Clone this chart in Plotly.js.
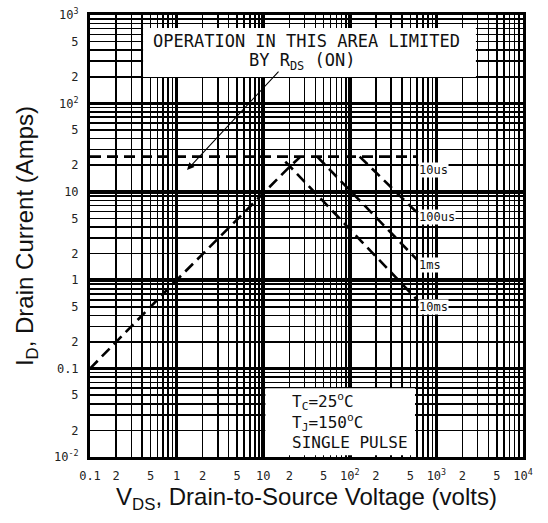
<!DOCTYPE html>
<html>
<head>
<meta charset="utf-8">
<script src="https://cdn.plot.ly/plotly-3.0.1.min.js"></script>
<style>html,body{margin:0;padding:0;background:#fff;}#chart{width:548px;height:523px;}</style>
</head>
<body>
<div id="chart"></div>
<script>
// ---- data (V in volts, I in amps) ----
const rdsV   = [0.1, 1, 20, 27];
const rdsI   = [0.1, 1, 19, 25];
const us10V  = [0.1, 600];
const us10I  = [25, 25];
const us100V = [130, 600];
const us100I = [25, 5.8];
const ms1V   = [42, 600];
const ms1I   = [25, 1.7];
const ms10V  = [18, 600];
const ms10I  = [22, 0.6];

const curveNames = ['10us', '100us', '1ms', '10ms'];

// ---- tick labels ----
const xLabelVals = [0.1,0.2,0.5,1,2,5,10,20,50,100,200,500,1000,2000,5000,10000];
const xLabelText = ['0.1','2','5','1','2','5','10','2','5','10<sup>2</sup>','2','5','10<sup>3</sup>','2','5','10<sup>4</sup>'];
const yLabelVals = [0.01,0.02,0.05,0.1,0.2,0.5,1,2,5,10,20,50,100,200,500,1000];
const yLabelText = ['10<sup>-2</sup>','2','5','0.1','2','5','1','2','5','10','2','5','10<sup>2</sup>','2','5','10<sup>3</sup>'];
const xDecades = [0.1,1,10,100,1000,10000];
const yDecades = [0.01,0.1,1,10,100,1000];
const minorDigits = [3,4,6,7,8,9];

// unlabeled grid values: digits 3,4,6..9 in each decade
function minorVals(decades){
  const out = [];
  for (let i = 0; i < decades.length - 1; i++) {
    minorDigits.forEach(d => out.push(+(d * decades[i]).toPrecision(3)));
  }
  return out;
}

const lineStyle = {color: '#000', width: 2.6, dash: '11px,6px'};
const mk = (x, y) => ({x: x, y: y, type: 'scatter', mode: 'lines', line: lineStyle,
                       hoverinfo: 'none', showlegend: false});

const traces = [
  mk(rdsV, rdsI), mk(us10V, us10I), mk(us100V, us100I), mk(ms1V, ms1I), mk(ms10V, ms10I),
  {x: [], y: [], xaxis: 'x2', yaxis: 'y2', type: 'scatter', mode: 'lines', showlegend: false}
];

const tickFont = {family: 'DejaVu Sans Mono', size: 12, color: '#222'};
const titleFont = {family: 'Liberation Sans, Arial, sans-serif', size: 24, color: '#111'};
const textFont = {family: 'DejaVu Sans Mono', size: 17, color: '#111'};
const boxFont = {family: 'DejaVu Sans Mono', size: 16, color: '#111'};
const labFont = {family: 'DejaVu Sans Mono', size: 12, color: '#111'};

const ends = [[us10V, us10I], [us100V, us100I], [ms1V, ms1I], [ms10V, ms10I]];
const labShift = [-13, -4, -5, -7];
const curveAnn = ends.map((e, i) => ({
  x: Math.log10(e[0][e[0].length - 1]), y: Math.log10(e[1][e[1].length - 1]),
  xref: 'x', yref: 'y', text: curveNames[i], showarrow: false,
  xanchor: 'left', yanchor: 'middle', xshift: 1, yshift: labShift[i],
  font: labFont, bgcolor: '#fff', borderpad: 0
}));

const minorGrid = vals => ({tickmode: 'array', tickvals: vals, showgrid: true,
                            gridcolor: '#000', gridwidth: 1.5, ticks: ''});

const layout = {
  width: 548, height: 523,
  margin: {l: 90, r: 25, t: 15, b: 66},
  paper_bgcolor: '#fff', plot_bgcolor: '#fff',
  showlegend: false,
  xaxis: {
    type: 'log', range: [-1, 4], tickmode: 'array', tickvals: xLabelVals,
    ticktext: xLabelText, tickangle: 0, minor: minorGrid(minorVals(xDecades)),
    showgrid: true, gridcolor: '#000', gridwidth: 1.5, ticks: '', ticklabelstandoff: 6,
    tickfont: tickFont, showline: true, mirror: true, linecolor: '#000', linewidth: 3,
    zeroline: false,
    title: {text: 'V<sub>DS</sub>, Drain-to-Source Voltage (volts)', font: titleFont, standoff: 6}
  },
  yaxis: {
    type: 'log', range: [-2, 3], tickmode: 'array', tickvals: yLabelVals,
    ticktext: yLabelText, minor: minorGrid(minorVals(yDecades)),
    showgrid: true, gridcolor: '#000', gridwidth: 1.5, ticks: '', ticklabelstandoff: 6,
    tickfont: tickFont, showline: true, mirror: true, linecolor: '#000', linewidth: 3,
    zeroline: false,
    title: {text: 'I<sub>D</sub>, Drain Current (Amps)', font: titleFont, standoff: 14}
  },
  xaxis2: {type: 'log', range: [-1, 4], overlaying: 'x', anchor: 'y2', tickmode: 'array',
           tickvals: xDecades, showticklabels: false, showgrid: true, gridcolor: '#000',
           gridwidth: 3.5, ticks: '', showline: false, zeroline: false},
  yaxis2: {type: 'log', range: [-2, 3], overlaying: 'y', anchor: 'x2', tickmode: 'array',
           tickvals: yDecades, showticklabels: false, showgrid: true, gridcolor: '#000',
           gridwidth: 3.5, ticks: '', showline: false, zeroline: false},
  shapes: [
    {type: 'rect', xref: 'x', yref: 'y', x0: 0.41, x1: 2860, y0: 199, y1: 713,
     fillcolor: '#fff', line: {width: 0}, layer: 'above'},
    {type: 'rect', xref: 'x', yref: 'y', x0: 10.6, x1: 566, y0: 0.0105, y1: 0.06,
     fillcolor: '#fff', line: {width: 0}, layer: 'above'}
  ],
  annotations: [
    {xref: 'paper', yref: 'paper', x: 0.499, y: 0.941, text: 'OPERATION IN THIS AREA LIMITED',
     showarrow: false, font: textFont, xanchor: 'center', yanchor: 'middle'},
    {xref: 'paper', yref: 'paper', x: 0.49, y: 0.894, text: 'BY R<sub>DS</sub> (ON)',
     showarrow: false, font: textFont, xanchor: 'center', yanchor: 'middle'},
    {xref: 'x', yref: 'y', x: Math.log10(1.32), y: Math.log10(17.7), axref: 'x', ayref: 'y',
     ax: Math.log10(15.6), ay: Math.log10(238), text: '', showarrow: true, arrowhead: 2,
     arrowsize: 1.3, arrowwidth: 1.1, arrowcolor: '#000'},
    {xref: 'paper', yref: 'paper', x: 0.462, y: 0.081,
     text: 'T<sub>C</sub>=25<sup>o</sup>C<br>T<sub>J</sub>=150<sup>o</sup>C<br>SINGLE PULSE',
     showarrow: false, font: boxFont, align: 'left', xanchor: 'left', yanchor: 'middle'}
  ].concat(curveAnn)
};

Plotly.newPlot('chart', traces, layout, {displayModeBar: false, staticPlot: true});
</script>
</body>
</html>
